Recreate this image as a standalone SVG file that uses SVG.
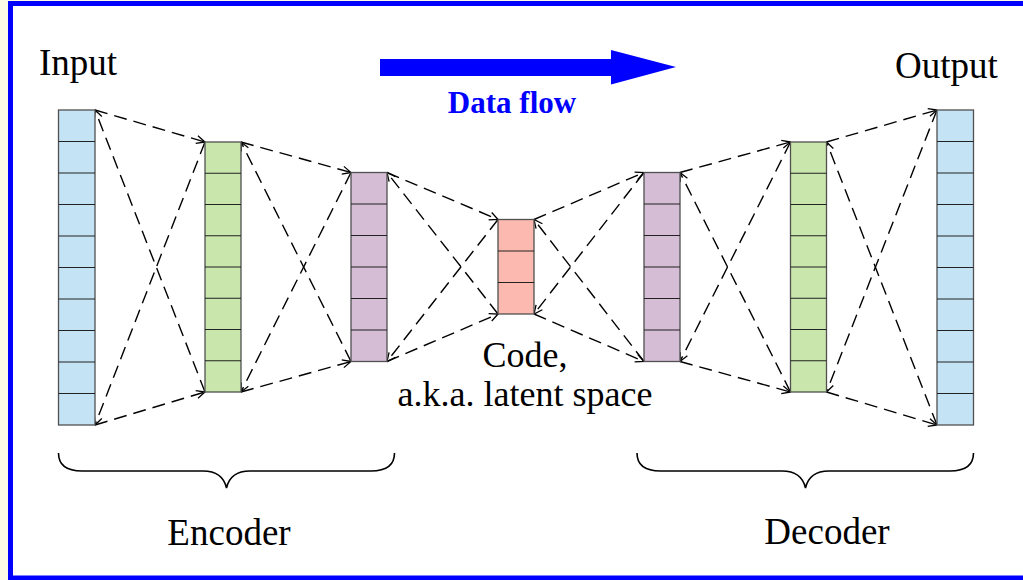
<svg xmlns="http://www.w3.org/2000/svg" width="1023" height="580" viewBox="0 0 1023 580">
  <style>
    .lbl { font-family: "Liberation Serif", Tinos, "Times New Roman", Times, "DejaVu Serif", serif; font-size: 37px; fill: #000; }
    .code { font-size: 36px; }
    .flow { font-family: "Liberation Serif", Tinos, "Times New Roman", Times, "DejaVu Serif", serif; font-size: 31px; font-weight: bold; fill: #0000ff; }
    .cell { stroke: #505050; stroke-width: 1.3; }
    .sep { stroke: #222; stroke-width: 1.2; }
    .blue { fill: #c4e4f6; }
    .green { fill: #c9e7ac; }
    .purple { fill: #d5bdd5; }
    .red { fill: #fcb9b0; }
    .link { fill: none; stroke: #000; stroke-width: 1.4; stroke-dasharray: 13 7; marker-end: url(#tip); }
    .brace { fill: none; stroke: #000; stroke-width: 1.6; }
  </style>
  <defs>
    <marker id="tip" viewBox="0 0 10 10" refX="9.5" refY="5" markerWidth="10" markerHeight="10" markerUnits="userSpaceOnUse" orient="auto">
      <path d="M1,1 L9.5,5 L1,9" fill="none" stroke="#000" stroke-width="1.3"/>
    </marker>
  </defs>

  <!-- page background and frame -->
  <rect x="0" y="0" width="1023" height="580" fill="#fcfce6"/>
  <rect x="10.5" y="3.5" width="1020" height="574.5" fill="#ffffff" stroke="#0000ff" stroke-width="5"/>

  <!-- data flow arrow -->
  <g id="dataflow">
    <path d="M380,59 L611,59 L611,50 L676,67 L611,84.5 L611,76 L380,76 Z" fill="#0000ff"/>
    <text class="flow" x="512" y="113" text-anchor="middle">Data flow</text>
  </g>

  <!-- connectors -->
  <g id="connectors">
    <!-- input -> encoder 1 -->
    <line class="link" x1="95" y1="110" x2="205" y2="142"/>
    <line class="link" x1="95" y1="425" x2="205" y2="392"/>
    <line class="link" x1="205" y1="142" x2="95" y2="425"/>
    <line class="link" x1="205" y1="392" x2="95" y2="110"/>
    <!-- encoder 1 -> encoder 2 -->
    <line class="link" x1="241" y1="142" x2="351" y2="172.5"/>
    <line class="link" x1="241" y1="392" x2="351" y2="361.5"/>
    <line class="link" x1="351" y1="172.5" x2="241" y2="392"/>
    <line class="link" x1="351" y1="361.5" x2="241" y2="142"/>
    <!-- encoder 2 -> code -->
    <line class="link" x1="387" y1="172.5" x2="498" y2="219.5"/>
    <line class="link" x1="387" y1="361.5" x2="498" y2="314"/>
    <line class="link" x1="498" y1="219.5" x2="387" y2="361.5"/>
    <line class="link" x1="498" y1="314" x2="387" y2="172.5"/>
    <!-- code -> decoder 1 -->
    <line class="link" x1="534" y1="219.5" x2="644" y2="172.5"/>
    <line class="link" x1="534" y1="314" x2="644" y2="361.5"/>
    <line class="link" x1="644" y1="172.5" x2="534" y2="314"/>
    <line class="link" x1="644" y1="361.5" x2="534" y2="219.5"/>
    <!-- decoder 1 -> decoder 2 -->
    <line class="link" x1="680" y1="172.5" x2="790.5" y2="142"/>
    <line class="link" x1="680" y1="361.5" x2="790.5" y2="392"/>
    <line class="link" x1="790.5" y1="142" x2="680" y2="361.5"/>
    <line class="link" x1="790.5" y1="392" x2="680" y2="172.5"/>
    <!-- decoder 2 -> output -->
    <line class="link" x1="826.5" y1="142" x2="937" y2="110"/>
    <line class="link" x1="826.5" y1="392" x2="937" y2="425"/>
    <line class="link" x1="937" y1="110" x2="826.5" y2="392"/>
    <line class="link" x1="937" y1="425" x2="826.5" y2="142"/>
  </g>

  <!-- input layer: 10 units -->
  <g id="input">
    <rect class="cell blue" x="58.5" y="110" width="36.5" height="315"/>
    <path class="sep" d="M58.5,141.5H95M58.5,173H95M58.5,204.5H95M58.5,236H95M58.5,267.5H95M58.5,299H95M58.5,330.5H95M58.5,362H95M58.5,393.5H95"/>
  </g>

  <!-- encoder hidden layer: 8 units -->
  <g id="encoder1">
    <rect class="cell green" x="205" y="142" width="36" height="250"/>
    <path class="sep" d="M205,173.25H241M205,204.5H241M205,235.75H241M205,267H241M205,298.25H241M205,329.5H241M205,360.75H241"/>
  </g>

  <!-- encoder hidden layer: 6 units -->
  <g id="encoder2">
    <rect class="cell purple" x="351" y="172.5" width="36" height="189"/>
    <path class="sep" d="M351,204H387M351,235.5H387M351,267H387M351,298.5H387M351,330H387"/>
  </g>

  <!-- code layer: 3 units -->
  <g id="code">
    <rect class="cell red" x="498" y="219.5" width="36" height="94.5"/>
    <path class="sep" d="M498,251H534M498,282.5H534"/>
  </g>

  <!-- decoder hidden layer: 6 units -->
  <g id="decoder1">
    <rect class="cell purple" x="644" y="172.5" width="36" height="189"/>
    <path class="sep" d="M644,204H680M644,235.5H680M644,267H680M644,298.5H680M644,330H680"/>
  </g>

  <!-- decoder hidden layer: 8 units -->
  <g id="decoder2">
    <rect class="cell green" x="790.5" y="142" width="36" height="250"/>
    <path class="sep" d="M790.5,173.25H826.5M790.5,204.5H826.5M790.5,235.75H826.5M790.5,267H826.5M790.5,298.25H826.5M790.5,329.5H826.5M790.5,360.75H826.5"/>
  </g>

  <!-- output layer: 10 units -->
  <g id="output">
    <rect class="cell blue" x="937" y="110" width="36.5" height="315"/>
    <path class="sep" d="M937,141.5H973.5M937,173H973.5M937,204.5H973.5M937,236H973.5M937,267.5H973.5M937,299H973.5M937,330.5H973.5M937,362H973.5M937,393.5H973.5"/>
  </g>

  <!-- labels -->
  <g id="labels">
    <text class="lbl" x="39" y="75">Input</text>
    <text class="lbl" x="895" y="78">Output</text>
    <text class="lbl code" x="525" y="367" text-anchor="middle">Code,</text>
    <text class="lbl code" x="525" y="406" text-anchor="middle">a.k.a. latent space</text>
  </g>

  <!-- encoder brace -->
  <g id="encoder-brace">
    <path class="brace" d="M58.5,453 C58.5,465 66,471 82,471 L203,471 C216,471 224,477 226.5,488 C229,477 237,471 250,471 L371,471 C387,471 394.5,465 394.5,453"/>
    <text class="lbl" x="229" y="545" text-anchor="middle">Encoder</text>
  </g>

  <!-- decoder brace -->
  <g id="decoder-brace">
    <path class="brace" d="M637,453 C637,465 644.5,471 660.5,471 L782,471 C795,471 803,477 805.5,488 C808,477 816,471 829,471 L950,471 C966,471 973.5,465 973.5,453"/>
    <text class="lbl" x="827" y="544" text-anchor="middle">Decoder</text>
  </g>
</svg>
